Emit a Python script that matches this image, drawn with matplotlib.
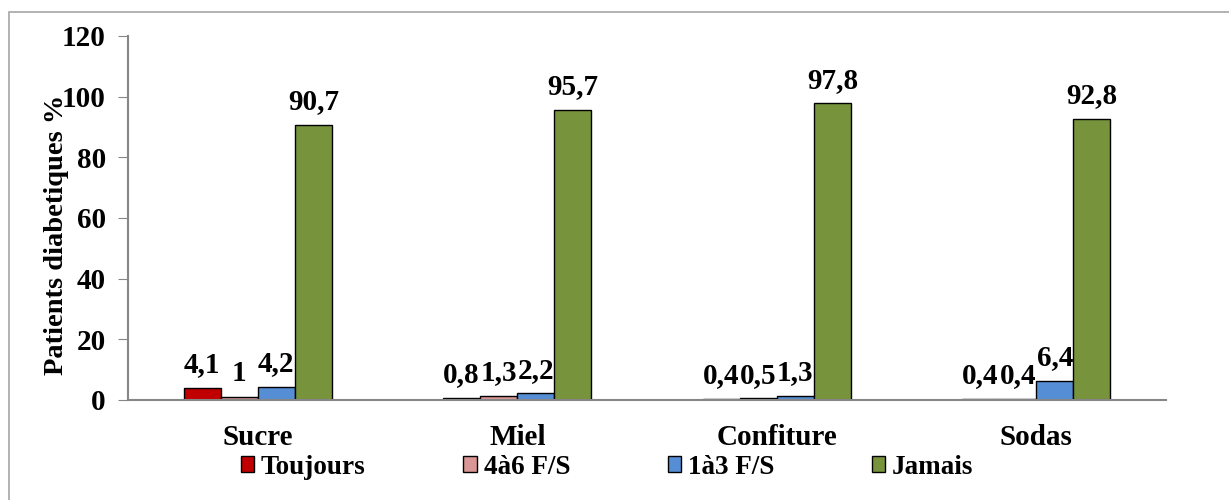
import matplotlib
matplotlib.use("Agg")
import matplotlib.pyplot as plt
from matplotlib.patches import Rectangle
import numpy as np

categories = ["Sucre", "Miel", "Confiture", "Sodas"]
series_names = ["Toujours", "4à6 F/S", "1à3 F/S", "Jamais"]
toujours = [4.1, 0.8, 0.4, 0.4]
quatre_six = [1, 1.3, 0.5, 0.4]
un_trois = [4.2, 2.2, 1.3, 6.4]
jamais = [90.7, 95.7, 97.8, 92.8]
colors = ["#C00000", "#D99694", "#558ED5", "#77933C"]

plt.rcParams["font.family"] = ["Liberation Serif", "DejaVu Serif"]
plt.rcParams["font.weight"] = "bold"

fig = plt.figure(figsize=(12.29, 5), dpi=100)
ax = fig.add_axes([128/1229, 1-400/500, (1166-128)/1229, (400-36)/500])

# outer frame around the whole figure
fig.patches.append(Rectangle((9/1229, -0.2), 1.2, 1.2 - 12/500,
                             transform=fig.transFigure, fill=False,
                             edgecolor="#A6A6A6", linewidth=1.2))

x = np.arange(len(categories))
w = 0.143
all_series = [toujours, quatre_six, un_trois, jamais]
for i, (vals, name, c) in enumerate(zip(all_series, series_names, colors)):
    bars = ax.bar(x + (i - 1.5) * w, vals, w, color=c, edgecolor="black",
                  linewidth=1.0, label=name)
    for b, v in zip(bars, vals):
        ax.annotate(f"{v:g}".replace(".", ","),
                    (b.get_x() + b.get_width() / 2, v),
                    xytext=(0, 7), textcoords="offset points",
                    ha="center", va="bottom", fontsize=21, fontweight="bold")

ax.set_xlim(-0.5, 3.5)
ax.set_ylim(0, 120)
ax.set_yticks(range(0, 121, 20))
ax.set_xticks(x)
ax.set_xticklabels(categories, fontsize=21, fontweight="bold")
ax.tick_params(axis="x", length=0, pad=17)
ax.tick_params(axis="y", labelsize=21, length=7, color="#868686", pad=9)
for lab in ax.get_yticklabels():
    lab.set_fontweight("bold")
for s in ["top", "right"]:
    ax.spines[s].set_visible(False)
for s in ["left", "bottom"]:
    ax.spines[s].set_color("#868686")
    ax.spines[s].set_linewidth(1.5)
ax.set_ylabel("Patients diabetiques %", fontsize=20.5, fontweight="bold")
ax.yaxis.set_label_coords((69 - 128) / 1038, (400 - 235) / 364)

leg = fig.legend(loc="center", bbox_to_anchor=(607/1229, 1-467/500), ncol=4,
                 frameon=False, fontsize=19.5, handlelength=0.5,
                 handleheight=0.5, handletextpad=0.25, columnspacing=3.6)
for t in leg.get_texts():
    t.set_fontweight("bold")

fig.savefig("out.png", dpi=100)
